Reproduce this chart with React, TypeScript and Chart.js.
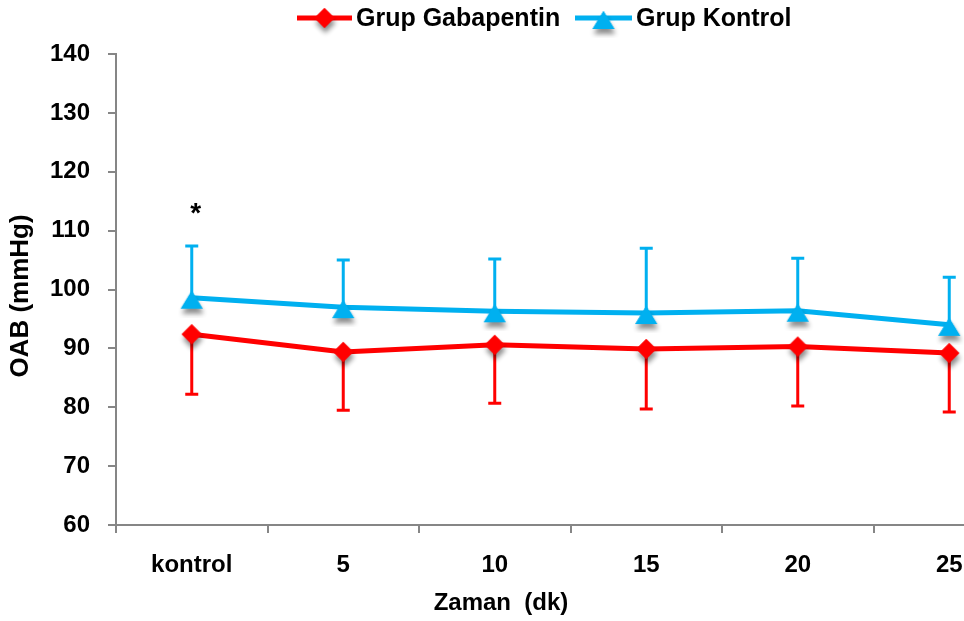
import React, { useEffect, useRef } from 'react';
import { Chart, registerables } from 'chart.js';

Chart.register(...registerables);

const categories = ['kontrol', '5', '10', '15', '20', '25'];
const gabapentinValues = [92.4, 89.4, 90.6, 89.9, 90.3, 89.2];
const gabapentinErrDown = [10.2, 9.9, 9.9, 10.2, 10.1, 10.0];
const kontrolValues = [98.6, 97.0, 96.3, 96.0, 96.4, 94.0];
const kontrolErrUp = [8.8, 8.0, 8.9, 11.0, 8.9, 8.1];
const yTicks = [60, 70, 80, 90, 100, 110, 120, 130, 140];
const starValue = 113.9;

const RED = '#FF0000';
const BLUE = '#00B0F0';
const AXIS = '#868686';
const FONT = "'Liberation Sans', Arial, sans-serif";

function makeMarker(shape: 'diamond' | 'triangle', color: string): HTMLCanvasElement {
  const c = document.createElement('canvas');
  c.width = 40;
  c.height = 40;
  const ctx = c.getContext('2d')!;
  const cx = 20, cy = 20;
  const path = () => {
    ctx.beginPath();
    if (shape === 'diamond') {
      ctx.moveTo(cx, cy - 10);
      ctx.lineTo(cx + 10, cy);
      ctx.lineTo(cx, cy + 10);
      ctx.lineTo(cx - 10, cy);
    } else {
      ctx.moveTo(cx, cy - 7);
      ctx.lineTo(cx + 11, cy + 11);
      ctx.lineTo(cx - 11, cy + 11);
    }
    ctx.closePath();
  };
  ctx.save();
  ctx.shadowColor = 'rgba(0,0,0,0.45)';
  ctx.shadowBlur = 5;
  ctx.shadowOffsetX = 1;
  ctx.shadowOffsetY = 5;
  ctx.fillStyle = color;
  path();
  ctx.fill();
  ctx.restore();
  ctx.fillStyle = color;
  path();
  ctx.fill();
  return c;
}

export default function App() {
  const ref = useRef<HTMLCanvasElement>(null);

  useEffect(() => {
    const canvas = ref.current!;
    const redMarker = makeMarker('diamond', RED);
    const blueMarker = makeMarker('triangle', BLUE);

    const extras = {
      id: 'extras',
      beforeDatasetsDraw(chart: any) {
        const ctx = chart.ctx;
        const ys = chart.scales.y;
        const drawBars = (di: number, vals: number[], errs: number[], dir: number, color: string) => {
          const meta = chart.getDatasetMeta(di);
          ctx.save();
          ctx.strokeStyle = color;
          ctx.lineWidth = 3;
          meta.data.forEach((el: any, i: number) => {
            const x = el.x;
            const y0 = ys.getPixelForValue(vals[i]);
            const y1 = ys.getPixelForValue(vals[i] + dir * errs[i]);
            ctx.beginPath();
            ctx.moveTo(x, y0);
            ctx.lineTo(x, y1);
            ctx.moveTo(x - 6.5, y1);
            ctx.lineTo(x + 6.5, y1);
            ctx.stroke();
          });
          ctx.restore();
        };
        drawBars(1, kontrolValues, kontrolErrUp, 1, BLUE);
        drawBars(0, gabapentinValues, gabapentinErrDown, -1, RED);
      },
      afterDraw(chart: any) {
        const ctx = chart.ctx;
        const xs = chart.scales.x;
        const ys = chart.scales.y;
        ctx.save();
        ctx.fillStyle = '#000';
        // legend
        const legendY = 18;
        const items = [
          { x0: 297, x1: 352, color: RED, marker: redMarker, text: 'Grup Gabapentin', tx: 356 },
          { x0: 575, x1: 632, color: BLUE, marker: blueMarker, text: 'Grup Kontrol', tx: 636 },
        ];
        items.forEach((it) => {
          ctx.strokeStyle = it.color;
          ctx.lineWidth = 5;
          ctx.beginPath();
          ctx.moveTo(it.x0, legendY);
          ctx.lineTo(it.x1, legendY);
          ctx.stroke();
          const mx = (it.x0 + it.x1) / 2;
          ctx.drawImage(it.marker, mx - 20, legendY - 20);
          ctx.font = `bold 25px ${FONT}`;
          ctx.textAlign = 'left';
          ctx.textBaseline = 'middle';
          ctx.fillStyle = '#000';
          ctx.fillText(it.text, it.tx, legendY + 1);
        });
        // y title
        ctx.save();
        ctx.translate(21, 296);
        ctx.rotate(-Math.PI / 2);
        ctx.font = `bold 26px ${FONT}`;
        ctx.textAlign = 'center';
        ctx.textBaseline = 'middle';
        ctx.fillText('OAB (mmHg)', 0, 0);
        ctx.restore();
        // x title
        ctx.font = `bold 24px ${FONT}`;
        ctx.textAlign = 'center';
        ctx.textBaseline = 'middle';
        ctx.fillText('Zaman  (dk)', 501, 603);
        // asterisk
        ctx.font = `bold 28px ${FONT}`;
        ctx.fillText('*', xs.getPixelForValue(0) + 4, ys.getPixelForValue(starValue) + 7);
        ctx.restore();
      },
    };

    const chart = new Chart(canvas, {
      type: 'line',
      data: {
        labels: categories,
        datasets: [
          {
            label: 'Grup Gabapentin',
            data: gabapentinValues,
            borderColor: RED,
            backgroundColor: RED,
            borderWidth: 5,
            tension: 0,
            pointStyle: redMarker as any,
            pointRadius: 10,
            pointHoverRadius: 10,
          },
          {
            label: 'Grup Kontrol',
            data: kontrolValues,
            borderColor: BLUE,
            backgroundColor: BLUE,
            borderWidth: 5,
            tension: 0,
            pointStyle: blueMarker as any,
            pointRadius: 10,
            pointHoverRadius: 10,
          },
        ],
      },
      options: {
        animation: false,
        responsive: false,
        devicePixelRatio: 1,
        events: [],
        layout: { padding: { top: 54, right: 12, left: 0, bottom: 0 } },
        plugins: {
          legend: { display: false },
          tooltip: { enabled: false },
        },
        scales: {
          x: {
            type: 'category',
            offset: true,
            afterFit: (s: any) => { s.height = 96; },
            grid: {
              display: true,
              offset: true,
              drawOnChartArea: false,
              drawTicks: true,
              tickLength: 8,
              color: AXIS,
              lineWidth: 2,
            },
            border: { display: true, color: AXIS, width: 2 },
            ticks: {
              color: '#000',
              font: { family: FONT, size: 24, weight: 'bold' },
              padding: 18,
              maxRotation: 0,
              autoSkip: false,
            },
          },
          y: {
            min: 60,
            max: 140,
            afterFit: (s: any) => { s.width = 116; },
            afterBuildTicks: (s: any) => { s.ticks = yTicks.map((v) => ({ value: v })); },
            grid: {
              display: true,
              drawOnChartArea: false,
              drawTicks: true,
              tickLength: 8,
              color: AXIS,
              lineWidth: 2,
            },
            border: { display: true, color: AXIS, width: 2 },
            ticks: {
              color: '#000',
              font: { family: FONT, size: 24, weight: 'bold' },
              padding: 18,
            },
          },
        },
      },
      plugins: [extras],
    });
    return () => chart.destroy();
  }, []);

  return (
    <div style={{ position: 'fixed', left: 0, top: 0, width: 964, height: 621, overflow: 'hidden', background: '#fff' }}>
      <canvas ref={ref} width={1040} height={621} style={{ display: 'block', width: 1040, height: 621 }} />
    </div>
  );
}
